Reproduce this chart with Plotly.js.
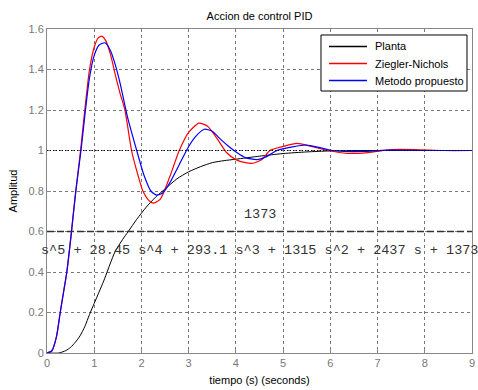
<!DOCTYPE html>
<html>
<head>
<meta charset="utf-8">
<script src="https://cdn.plot.ly/plotly-3.0.1.min.js"></script>
<style>html,body{margin:0;padding:0;background:#fff;}#chart{width:478px;height:390px;}</style>
</head>
<body>
<div id="chart"></div>
<script>
// Planta (open plant step response)
const plantT = [0, 0.25, 0.4, 0.5, 0.6, 0.7, 0.8, 0.9, 1.0, 1.1, 1.2, 1.44, 1.6, 1.72, 1.9, 2.1, 2.3, 2.5, 2.75, 3.0, 3.25, 3.5, 3.75, 4.0, 4.5, 5.0, 5.5, 6.0, 7, 8, 9];
const plantY = [0, 0, 0.012, 0.028, 0.053, 0.085, 0.13, 0.19, 0.245, 0.3, 0.355, 0.5, 0.56, 0.6, 0.66, 0.72, 0.77, 0.81, 0.86, 0.895, 0.92, 0.94, 0.95, 0.957, 0.972, 0.985, 0.993, 0.998, 1, 1, 1];

// Ziegler-Nichols
const znT = [0, 0.1, 0.2, 0.28, 0.35, 0.42, 0.5, 0.61, 0.72, 0.8, 0.9, 1.0, 1.08, 1.16, 1.25, 1.35, 1.45, 1.55, 1.65, 1.79, 1.9, 2.03, 2.15, 2.25, 2.4, 2.6, 2.8, 3.0, 3.22, 3.4, 3.6, 3.8, 4.0, 4.2, 4.36, 4.55, 4.72, 5.0, 5.29, 5.6, 5.95, 6.35, 6.8, 7.3, 7.8, 8.4, 9];
const znY = [0, 0.01, 0.08, 0.2, 0.3, 0.4, 0.56, 0.8, 1.02, 1.2, 1.4, 1.51, 1.555, 1.565, 1.54, 1.47, 1.37, 1.28, 1.2, 1.0, 0.9, 0.8, 0.755, 0.74, 0.76, 0.87, 1.0, 1.09, 1.135, 1.12, 1.06, 0.99, 0.955, 0.94, 0.937, 0.955, 1.0, 1.02, 1.035, 1.02, 1.0, 0.986, 0.99, 1.005, 1.005, 1.0, 1.0];

// Metodo propuesto
const mpT = [0, 0.1, 0.2, 0.28, 0.35, 0.42, 0.5, 0.61, 0.72, 0.8, 0.9, 1.0, 1.1, 1.23, 1.35, 1.45, 1.55, 1.7, 1.9, 2.05, 2.2, 2.32, 2.45, 2.6, 2.8, 3.0, 3.15, 3.33, 3.5, 3.7, 3.85, 4.02, 4.2, 4.44, 4.65, 4.87, 5.2, 5.5, 5.75, 6.03, 6.3, 6.7, 7.2, 8, 9];
const mpY = [0, 0.01, 0.08, 0.2, 0.3, 0.4, 0.56, 0.8, 1.0, 1.17, 1.36, 1.47, 1.52, 1.532, 1.49, 1.42, 1.33, 1.17, 1.0, 0.88, 0.8, 0.78, 0.79, 0.84, 0.93, 1.02, 1.07, 1.105, 1.095, 1.05, 1.02, 0.99, 0.965, 0.955, 0.97, 1.0, 1.018, 1.027, 1.015, 1.0, 0.995, 0.995, 1.002, 1.0, 1.0];

const xTicks = [0, 1, 2, 3, 4, 5, 6, 7, 8, 9];
const yTicks = [0, 0.2, 0.4, 0.6, 0.8, 1, 1.2, 1.4, 1.6];
const seriesNames = ['Planta', 'Ziegler-Nichols', 'Metodo propuesto'];
const seriesColors = ['#000000', '#ff0000', '#0000ff'];
const numText = '1373';
const denText = 's^5 + 28.45 s^4 + 293.1 s^3 + 1315 s^2 + 2437 s + 1373';

const seriesT = [plantT, znT, mpT];
const seriesY = [plantY, znY, mpY];
const widths = [1, 1.2, 1.2];

const traces = seriesT.map((t, i) => ({
  x: t, y: seriesY[i], name: seriesNames[i], mode: 'lines', showlegend: false,
  line: {color: seriesColors[i], width: widths[i], shape: 'spline', smoothing: 0.6}
}));

const axisCommon = {
  showline: true, linecolor: '#888', linewidth: 1, mirror: true,
  showgrid: true, gridcolor: '#777', gridwidth: 1, griddash: '3px,3px',
  zeroline: false, ticks: 'inside', ticklen: 4, tickcolor: '#888',
  tickfont: {family: 'Liberation Sans, Arial, sans-serif', size: 11, color: '#777'}
};

// legend box, drawn in paper coordinates
const legBox = {x0: 0.6447, x1: 0.9882, y0: 0.8086, y1: 0.9815};
const legRows = [0.9460, 0.8935, 0.8410];
const legLineX = [0.6635, 0.7529];
const legTextX = 0.7671;

const shapes = [
  {type: 'line', xref: 'x', yref: 'y', x0: 0, x1: 9, y0: 1, y1: 1, line: {color: '#000', width: 1, dash: '1px,2px'}},
  {type: 'line', xref: 'x', yref: 'y', x0: 0, x1: 9, y0: 0.6, y1: 0.6, line: {color: '#333', width: 1.5, dash: '7px,3px'}},
  {type: 'rect', xref: 'paper', yref: 'paper', x0: legBox.x0, x1: legBox.x1, y0: legBox.y0, y1: legBox.y1,
    fillcolor: '#fff', line: {color: '#000', width: 1}, layer: 'above'}
];
const annotations = [
  {text: numText, xref: 'paper', yref: 'y', x: 0.5, y: 0.685, showarrow: false, xanchor: 'center', yanchor: 'middle',
    font: {family: 'Liberation Mono, Courier New, monospace', size: 13.5, color: '#333'}},
  {text: denText, xref: 'paper', yref: 'y', x: 0.5, y: 0.505, showarrow: false, xanchor: 'center', yanchor: 'middle',
    font: {family: 'Liberation Mono, Courier New, monospace', size: 13.5, color: '#333'}}
];
seriesNames.forEach((n, i) => {
  shapes.push({type: 'line', xref: 'paper', yref: 'paper', x0: legLineX[0], x1: legLineX[1], y0: legRows[i], y1: legRows[i],
    line: {color: seriesColors[i], width: 1.4}, layer: 'above'});
  annotations.push({text: n, xref: 'paper', yref: 'paper', x: legTextX, y: legRows[i], xanchor: 'left', yanchor: 'middle',
    showarrow: false, font: {family: 'Liberation Sans, Arial, sans-serif', size: 11, color: '#000'}});
});

const layout = {
  width: 478, height: 390,
  margin: {l: 47, r: 6, t: 29, b: 37},
  paper_bgcolor: '#fff', plot_bgcolor: '#fff',
  title: {text: 'Accion de control PID', font: {family: 'Liberation Sans, Arial, sans-serif', size: 11, color: '#000'}, x: 0.5, xref: 'paper', y: 1, yref: 'paper', yanchor: 'bottom', pad: {b: 9}},
  xaxis: Object.assign({}, axisCommon, {range: [0, 9], tickvals: xTicks, ticktext: xTicks.map(String),
    title: {text: 'tiempo (s) (seconds)', font: {family: 'Liberation Sans, Arial, sans-serif', size: 11, color: '#000'}, standoff: 8}}),
  yaxis: Object.assign({}, axisCommon, {range: [0, 1.6], tickvals: yTicks, ticktext: yTicks.map(String),
    title: {text: 'Amplitud', font: {family: 'Liberation Sans, Arial, sans-serif', size: 11, color: '#000'}, standoff: 8}}),
  shapes: shapes,
  annotations: annotations,
  showlegend: false
};

Plotly.newPlot('chart', traces, layout, {displayModeBar: false, staticPlot: true});
</script>
</body>
</html>
